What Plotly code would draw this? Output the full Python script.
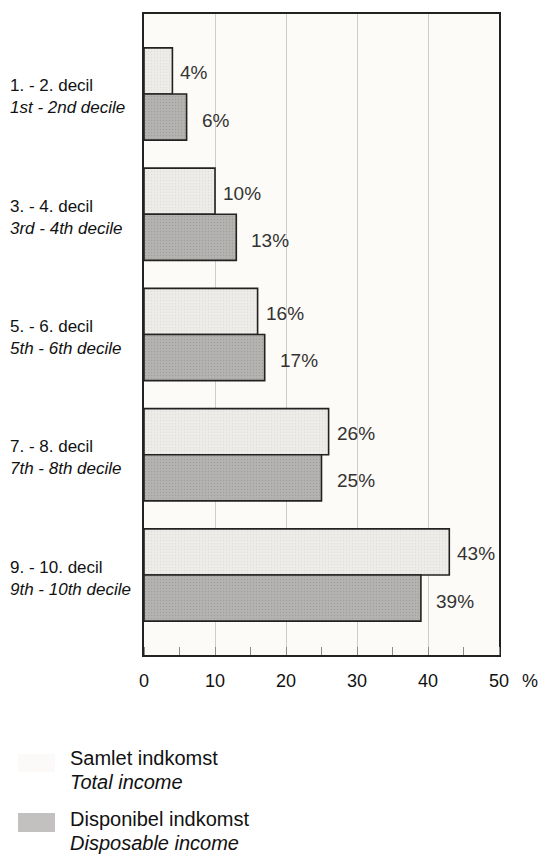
import plotly.graph_objects as go

# ---- data ----
cat_da = ["1. - 2. decil", "3. - 4. decil", "5. - 6. decil", "7. - 8. decil", "9. - 10. decil"]
cat_en = ["1st - 2nd decile", "3rd - 4th decile", "5th - 6th decile", "7th - 8th decile", "9th - 10th decile"]
total_income = [4, 10, 16, 26, 43]
disposable_income = [6, 13, 17, 25, 39]
x_ticks = [0, 10, 20, 30, 40, 50]
series_da = ["Samlet indkomst", "Disponibel indkomst"]
series_en = ["Total income", "Disposable income"]

FONT = "Liberation Sans, Arial, sans-serif"
LIGHT = "#eeece9"
DARK = "#b4b3b1"
EDGE = "#222222"

W, H = 544, 855
ML, MR, MT, MB = 144, 45, 14, 200
pw = W - ML - MR
ph = H - MT - MB

pos = list(range(len(cat_da)))
BARGAP = 0.233
half = (1 - BARGAP) / 4  # offset of each bar centre from category centre

fig = go.Figure()
fig.add_trace(go.Bar(
    y=pos, x=total_income, orientation="h", name=series_da[0],
    marker=dict(color=LIGHT, line=dict(color=EDGE, width=1.6),
                pattern=dict(shape=".", fgcolor="#d0cecb", bgcolor=LIGHT, size=3, solidity=0.15)),
    showlegend=False, hoverinfo="skip",
))
fig.add_trace(go.Bar(
    y=pos, x=disposable_income, orientation="h", name=series_da[1],
    marker=dict(color=DARK, line=dict(color=EDGE, width=1.6),
                pattern=dict(shape=".", fgcolor="#8f8e8c", bgcolor=DARK, size=3, solidity=0.2)),
    showlegend=False, hoverinfo="skip",
))

annotations = []
# value labels
for i, v in enumerate(total_income):
    annotations.append(dict(x=v, y=i - half, xref="x", yref="y", text=f"{v}%",
                            showarrow=False, xanchor="left", yanchor="middle",
                            xshift=6, yshift=-2,
                            font=dict(family=FONT, size=19, color="#333333")))
for i, v in enumerate(disposable_income):
    annotations.append(dict(x=v, y=i + half, xref="x", yref="y", text=f"{v}%",
                            showarrow=False, xanchor="left", yanchor="middle",
                            xshift=13, yshift=-3,
                            font=dict(family=FONT, size=19, color="#333333")))
# category labels
for i, (da, en) in enumerate(zip(cat_da, cat_en)):
    annotations.append(dict(x=(8 - ML) / pw, y=i, xref="paper", yref="y",
                            text=f"{da}<br><i>{en}</i>", showarrow=False,
                            xanchor="left", yanchor="middle", align="left", yshift=-3,
                            font=dict(family=FONT, size=17, color="#111111")))
# percent sign after axis
annotations.append(dict(x=50, y=0, xref="x", yref="paper", text="%", showarrow=False,
                        xanchor="center", yanchor="middle", xshift=31, yshift=-26,
                        font=dict(family=FONT, size=18, color="#111111")))

# legend (manual)
def px_to_paper_x(px):
    return (px - ML) / pw

def py_to_paper_y(py):
    return (H - MB - py) / ph

shapes = []
leg_colors = ["#fbfaf9", "#c2c1bf"]
leg_rows = [(758, 782, 754, 772), (819, 843, 813, 832)]
for k in range(2):
    y1, y2, s0, s1 = leg_rows[k]
    shapes.append(dict(type="rect", xref="paper", yref="paper",
                       x0=px_to_paper_x(18), x1=px_to_paper_x(55),
                       y0=py_to_paper_y(s1), y1=py_to_paper_y(s0),
                       fillcolor=leg_colors[k], line=dict(width=0)))
    annotations.append(dict(x=px_to_paper_x(68), y=py_to_paper_y(y1), xref="paper", yref="paper",
                            text=series_da[k], showarrow=False, xanchor="left", yanchor="middle",
                            font=dict(family=FONT, size=20, color="#111111")))
    annotations.append(dict(x=px_to_paper_x(68), y=py_to_paper_y(y2), xref="paper", yref="paper",
                            text=f"<i>{series_en[k]}</i>", showarrow=False, xanchor="left", yanchor="middle",
                            font=dict(family=FONT, size=20, color="#111111")))

fig.update_layout(
    width=W, height=H,
    margin=dict(l=ML, r=MR, t=MT, b=MB, pad=0),
    paper_bgcolor="white",
    plot_bgcolor="#fdfbf7",
    barmode="group", bargap=BARGAP, bargroupgap=0,
    annotations=annotations,
    shapes=shapes,
    showlegend=False,
    hovermode=False,
    font=dict(family=FONT, color="#111111"),
)
fig.update_xaxes(
    range=[0, 50], tickvals=x_ticks, ticktext=[str(t) for t in x_ticks],
    showgrid=True, gridcolor="#cdcdcd", gridwidth=1,
    showline=True, mirror=True, linecolor=EDGE, linewidth=2,
    ticks="", zeroline=False,
    tickfont=dict(family=FONT, size=18, color="#111111"),
    ticklabelstandoff=8,
    minor=dict(ticks="inside", ticklen=8, tickcolor="#8a8a8a", tickwidth=1, dtick=5, tick0=0, showgrid=False),
)
fig.update_yaxes(
    range=[len(pos) - 1 + 0.665, -0.665],
    showticklabels=False, showgrid=False, zeroline=False, ticks="",
    showline=True, mirror=True, linecolor=EDGE, linewidth=2,
)

fig.write_html(
    "out.html",
    config={"displayModeBar": False, "staticPlot": True},
    post_script="document.body.style.margin='0';document.body.style.padding='0';"
                "document.body.style.overflow='hidden';",
)
